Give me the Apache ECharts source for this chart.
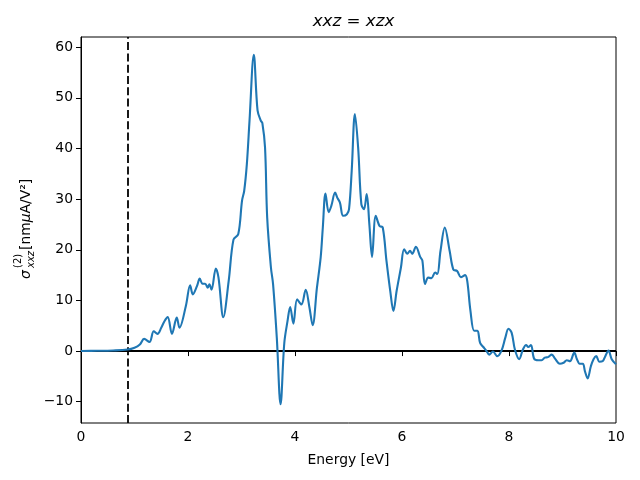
<!DOCTYPE html>
<html>
<head>
<meta charset="utf-8">
<script src="https://cdn.jsdelivr.net/npm/echarts@6/dist/echarts.min.js"></script>
<style>html,body{margin:0;padding:0;background:#fff}#c{width:640px;height:480px}</style>
</head>
<body>
<div id="c"></div>
<script>
const energy = [0, 0.3, 0.6, 0.87, 1.0, 1.1, 1.18, 1.28, 1.36, 1.43, 1.5, 1.56, 1.62, 1.70, 1.79, 1.84, 1.96, 2.04, 2.09, 2.17, 2.22, 2.27, 2.32, 2.37, 2.40, 2.44, 2.52, 2.57, 2.66, 2.76, 2.85, 2.94, 3.01, 3.05, 3.10, 3.15, 3.23, 3.30, 3.36, 3.39, 3.44, 3.48, 3.55, 3.59, 3.66, 3.73, 3.80, 3.86, 3.91, 3.97, 4.04, 4.12, 4.20, 4.27, 4.33, 4.41, 4.48, 4.52, 4.57, 4.63, 4.68, 4.75, 4.79, 4.84, 4.90, 4.97, 5.01, 5.06, 5.12, 5.18, 5.24, 5.29, 5.34, 5.39, 5.44, 5.51, 5.58, 5.64, 5.71, 5.78, 5.84, 5.90, 5.98, 6.04, 6.10, 6.15, 6.19, 6.26, 6.34, 6.38, 6.43, 6.49, 6.55, 6.62, 6.66, 6.72, 6.80, 6.89, 6.96, 7.03, 7.10, 7.18, 7.22, 7.28, 7.35, 7.41, 7.46, 7.52, 7.58, 7.63, 7.70, 7.78, 7.86, 7.93, 7.99, 8.05, 8.11, 8.19, 8.26, 8.32, 8.36, 8.41, 8.47, 8.55, 8.61, 8.67, 8.73, 8.80, 8.86, 8.95, 9.02, 9.08, 9.14, 9.22, 9.27, 9.32, 9.38, 9.42, 9.47, 9.53, 9.58, 9.63, 9.69, 9.75, 9.80, 9.86, 9.92, 10.0];
const sigma = [0.02, 0.05, 0.12, 0.3, 0.65, 1.3, 2.4, 1.8, 3.9, 3.4, 4.6, 5.9, 6.7, 3.4, 6.6, 4.6, 8.9, 13.0, 11.2, 12.9, 14.3, 13.3, 13.3, 12.5, 13.2, 12.1, 16.3, 14.5, 6.7, 13.8, 22.0, 23.1, 29.7, 31.6, 36.9, 45.5, 58.5, 47.5, 45.5, 45.0, 40.2, 26.4, 16.5, 13.2, 2.6, -10.5, 1.6, 5.9, 8.7, 5.4, 10.2, 9.2, 12.1, 8.6, 5.1, 12.5, 18.5, 24.4, 31.1, 27.4, 28.7, 31.3, 30.3, 29.3, 26.7, 27.0, 28.0, 35.6, 46.8, 40.2, 29.0, 28.0, 31.0, 25.0, 18.6, 26.7, 24.7, 24.4, 17.8, 11.9, 7.9, 11.9, 16.5, 20.1, 19.2, 19.8, 19.2, 20.6, 18.6, 17.9, 13.2, 14.5, 14.4, 15.5, 15.2, 19.8, 24.4, 19.8, 16.1, 15.8, 14.6, 15.0, 13.8, 7.9, 4.0, 4.0, 1.6, 0.8, 0.0, -0.7, -0.1, -1.0, 0.1, 2.6, 4.4, 3.6, 0.3, -1.6, 0.3, 1.2, 0.8, 1.2, -1.5, -1.8, -1.8, -1.3, -1.2, -0.7, -1.5, -2.5, -2.3, -1.8, -2.0, -0.3, -1.6, -2.5, -2.5, -4.0, -5.4, -3.0, -1.6, -1.0, -2.1, -2.0, -1.0, 0.1, -1.6, -2.6];
const xTicks = [0, 2, 4, 6, 8, 10];
const yTicks = [-10, 0, 10, 20, 30, 40, 50, 60];
const bandGap = 0.87;
const zeroLevel = 0;

const FONT = 'DejaVu Sans';
const fmt = v => (v < 0 ? '\u2212' + Math.abs(v) : String(v));

const chart = echarts.init(document.getElementById('c'), null, {renderer: 'canvas'});
chart.setOption({
  backgroundColor: '#fff',
  animation: false,
  title: {
    text: '{i|xxz}{n| = }{i|xzx}',
    left: 348.5, textAlign: 'center', top: 8,
    textStyle: {
      fontWeight: 'normal',
      rich: {
        i: {fontFamily: FONT, fontStyle: 'italic', fontWeight: 'normal', fontSize: 16.7, color: '#000'},
        n: {fontFamily: FONT, fontWeight: 'normal', fontSize: 16.7, color: '#000'}
      }
    }
  },
  grid: {left: 81, right: 24, top: 37, bottom: 57, show: true, borderColor: '#000', borderWidth: 1, backgroundColor: 'transparent'},
  xAxis: {
    type: 'value', min: 0, max: 10,
    name: 'Energy [eV]', nameLocation: 'middle', nameGap: 30,
    nameTextStyle: {fontFamily: FONT, fontSize: 13.9, color: '#000'},
    axisLine: {lineStyle: {color: '#000', width: 1}},
    axisTick: {customValues: xTicks, length: 5, lineStyle: {color: '#000', width: 1}},
    axisLabel: {customValues: xTicks, fontFamily: FONT, fontSize: 13.9, color: '#000', margin: 7, formatter: fmt},
    splitLine: {show: false}
  },
  yAxis: {
    type: 'value', min: -14.2, max: 62,
    axisLine: {show: true, lineStyle: {color: '#000', width: 1}},
    axisTick: {show: true, customValues: yTicks, length: 5, lineStyle: {color: '#000', width: 1}},
    axisLabel: {customValues: yTicks, fontFamily: FONT, fontSize: 13.9, color: '#000', margin: 8, formatter: fmt},
    splitLine: {show: false}
  },
  graphic: [
    {type: 'text', x: 26, y: 279, rotation: Math.PI / 2,
     style: {text: 'σ', font: 'italic 14px "DejaVu Sans"', fill: '#000', align: 'left', verticalAlign: 'middle'}},
    {type: 'text', x: 18, y: 268, rotation: Math.PI / 2,
     style: {text: '(2)', font: '10px "DejaVu Sans"', fill: '#000', align: 'left', verticalAlign: 'middle'}},
    {type: 'text', x: 31, y: 268, rotation: Math.PI / 2,
     style: {text: 'xxz', font: 'italic 10px "DejaVu Sans"', fill: '#000', align: 'left', verticalAlign: 'middle'}},
    {type: 'text', x: 26, y: 250, rotation: Math.PI / 2,
     style: {text: '{n|[nm}{i|μ}{n|A/V²]}', align: 'left', verticalAlign: 'middle',
       rich: {n: {fontFamily: FONT, fontSize: 13.9, fill: '#000'}, i: {fontFamily: FONT, fontStyle: 'italic', fontSize: 13.9, fill: '#000'}}}}
  ],
  series: [{
    type: 'line',
    data: energy.map((e, i) => [e, sigma[i]]),
    showSymbol: false,
    smooth: 0.35,
    lineStyle: {color: '#1f77b4', width: 2.1},
    itemStyle: {color: '#1f77b4'},
    silent: true,
    z: 3,
    markLine: {
      silent: true, symbol: 'none', label: {show: false}, z: 2,
      data: [
        {yAxis: zeroLevel, lineStyle: {color: '#000', width: 1.8, type: 'solid'}},
        {xAxis: bandGap, lineStyle: {color: '#000', width: 1.8, type: [8, 3.3]}}
      ]
    }
  }]
});
</script>
</body>
</html>
